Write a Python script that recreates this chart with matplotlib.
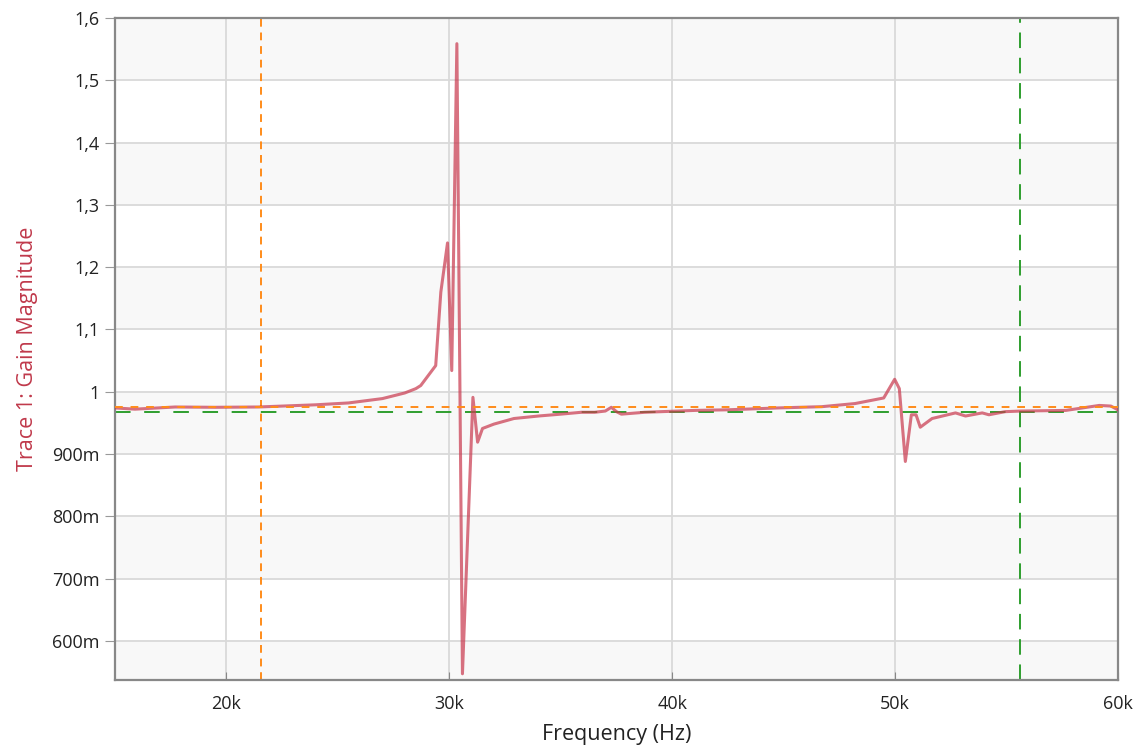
import numpy as np
import matplotlib.pyplot as plt

# Gain trace (Hz, linear gain)
freq = [15000, 15900, 17700, 19500, 21430, 24000, 25480, 27000, 28000, 28500,
        28720, 29390, 29620, 29920, 30110, 30340, 30590, 31060, 31270, 31490,
        32000, 32900, 34000, 35000, 35920, 36520, 37000, 37270, 37500, 37720,
        38760, 41010, 42510, 44760, 46710, 48200, 49490, 49980, 50190, 50460,
        50730, 50940, 51130, 51660, 52710, 53160, 53910, 54210, 54940, 55660,
        57660, 59160, 59680, 60050]
gain = [0.974, 0.972, 0.9755, 0.975, 0.9755, 0.979, 0.982, 0.989, 0.998, 1.005,
        1.010, 1.042, 1.160, 1.239, 1.034, 1.559, 0.547, 0.991, 0.919, 0.941,
        0.948, 0.957, 0.961, 0.964, 0.967, 0.967, 0.969, 0.975, 0.968, 0.964,
        0.967, 0.970, 0.971, 0.974, 0.976, 0.981, 0.990, 1.020, 1.005, 0.888,
        0.963, 0.963, 0.943, 0.957, 0.966, 0.961, 0.966, 0.963, 0.968, 0.969,
        0.970, 0.978, 0.977, 0.970]

# cursor / reference lines
cursor_orange_x = 21570
cursor_green_x = 55620
level_orange = 0.976
level_green = 0.968

xticks = [20000, 30000, 40000, 50000, 60000]
xlabels = ["20k", "30k", "40k", "50k", "60k"]
yticks = [0.6, 0.7, 0.8, 0.9, 1.0, 1.1, 1.2, 1.3, 1.4, 1.5, 1.6]
ylabels = ["600m", "700m", "800m", "900m", "1", "1,1", "1,2", "1,3", "1,4", "1,5", "1,6"]

plt.rcParams['font.family'] = ['Open Sans', 'DejaVu Sans']

fig = plt.figure(figsize=(11.45, 7.56), dpi=100)
ax = fig.add_axes([0.1004, 0.1005, 0.876, 0.8755])

xmin, xmax = 15000, 60000
ymin, ymax = 0.537, 1.6
ax.set_xlim(xmin, xmax)
ax.set_ylim(ymin, ymax)

# alternating bands between grid lines
edges = [ymin] + yticks
for i in range(len(edges) - 1):
    if i % 2 == 0:
        ax.axhspan(edges[i], edges[i + 1], color="#f8f8f8", zorder=0, lw=0)

ax.grid(True, color="#d9d9d9", lw=1.3, zorder=1)
ax.set_axisbelow(True)

ax.axvline(cursor_orange_x, color="#ff8c1a", lw=1.4, dashes=(4, 3), zorder=2)
ax.axvline(cursor_green_x, color="#2e9e2e", lw=1.4, dashes=(8, 5), zorder=2)
ax.axhline(level_green, color="#2e9e2e", lw=1.4, dashes=(8, 7), zorder=2)
ax.axhline(level_orange, color="#ff8c1a", lw=1.4, dashes=(4, 4), zorder=4)

ax.plot(freq, gain, color="#c93c50", lw=2.2, alpha=0.72, zorder=3)

ax.set_xticks(xticks)
ax.set_xticklabels(xlabels)
ax.set_yticks(yticks)
ax.set_yticklabels(ylabels)
ax.tick_params(axis="x", direction="in", length=6, color="#888888",
               labelsize=13, labelcolor="#222222", pad=11)
ax.tick_params(axis="y", direction="out", length=7, color="#999999",
               labelsize=13, labelcolor="#222222", pad=4)

for s in ax.spines.values():
    s.set_color("#888888")
    s.set_linewidth(1.6)

ax.set_xlabel("Frequency (Hz)", fontsize=15.5, color="#222222", labelpad=8)
ax.set_ylabel("Trace 1: Gain Magnitude", fontsize=15.5, color="#c0394b", labelpad=10)

fig.savefig("out.png", dpi=100)
